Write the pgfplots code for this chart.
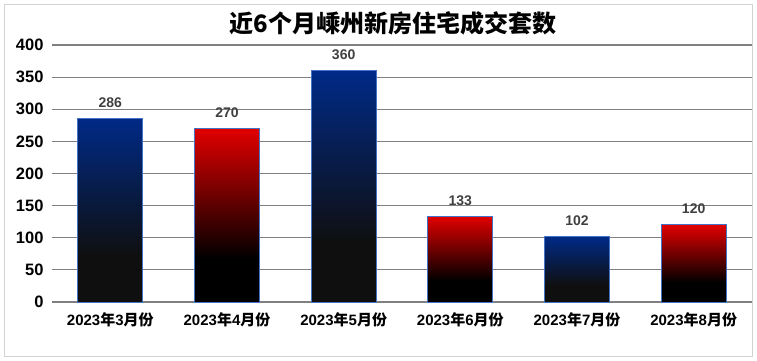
\documentclass[border=0pt]{standalone}
\usepackage{pgfplots}
\pgfplotsset{compat=1.18}
\usepackage{fontspec}
\setmainfont{Liberation Sans}
\newfontfamily\cjk{Noto Sans CJK SC}
\definecolor{btop}{RGB}{0,42,135}
\definecolor{bdark}{RGB}{15,15,15}
\definecolor{rtop}{RGB}{225,0,0}
\definecolor{rdark}{RGB}{0,0,0}
\definecolor{bordc}{RGB}{68,114,196}
\definecolor{gridc}{RGB}{128,128,128}
\definecolor{labc}{RGB}{64,64,64}
\pgfdeclareverticalshading{blueshade}{100bp}{color(0bp)=(bdark); color(37.5bp)=(bdark); color(75bp)=(btop); color(100bp)=(btop)}
\pgfdeclareverticalshading{redshade}{100bp}{color(0bp)=(rdark); color(37.5bp)=(rdark); color(75bp)=(rtop); color(100bp)=(rtop)}
\newcommand{\xl}[1]{2023{\cjk 年}#1{\cjk 月份}}
\begin{document}
\begin{tikzpicture}[x=1pt,y=1pt]
\begin{axis}[
  name=ax,
  scale only axis, width=700pt, height=257pt,
  xmin=-0.5, xmax=5.5, ymin=0, ymax=400,
  ytick={0,50,...,400},
  xtick={0,1,2,3,4,5},
  xticklabels={\xl{3},\xl{4},\xl{5},\xl{6},\xl{7},\xl{8}},
  ymajorgrids, grid style={gridc, line width=1.2pt},
  axis line style={draw=none},
  major tick length=0pt,
  tick style={draw=none},
  yticklabel style={font=\bfseries\fontsize{16.5}{16.5}\selectfont, anchor=east, xshift=-5pt},
  xticklabel style={font=\bfseries\fontsize{15}{15}\selectfont, anchor=north, yshift=-7pt},
  /pgf/number format/assume math mode=true,
  ybar, bar width=0.557, bar shift=0pt,
  nodes near coords,
  every node near coord/.append style={font=\bfseries\fontsize{14}{14}\selectfont, text=labc, yshift=7pt},
  blue bar/.style={draw=bordc, line width=0.9pt, shade, shading=blueshade},
  red bar/.style={draw=bordc, line width=0.9pt, shade, shading=redshade},
  clip=false,
]
\addplot[blue bar] coordinates {(0,286)};
\addplot[red bar] coordinates {(1,270)};
\addplot[blue bar] coordinates {(2,360)};
\addplot[red bar] coordinates {(3,133)};
\addplot[blue bar] coordinates {(4,102)};
\addplot[red bar] coordinates {(5,120)};
\end{axis}
\pgfresetboundingbox
\path[use as bounding box] (ax.south west) ++(-52,-59) rectangle ++(757,361);
\draw[gray!35, line width=0.8pt] (ax.south west) ++(-48,-54) rectangle ++(748,352);
\path (ax.south west) ++(341,279) node[font=\bfseries\fontsize{24}{24}\selectfont\cjk] {近6个月嵊州新房住宅成交套数};
\end{tikzpicture}
\end{document}
